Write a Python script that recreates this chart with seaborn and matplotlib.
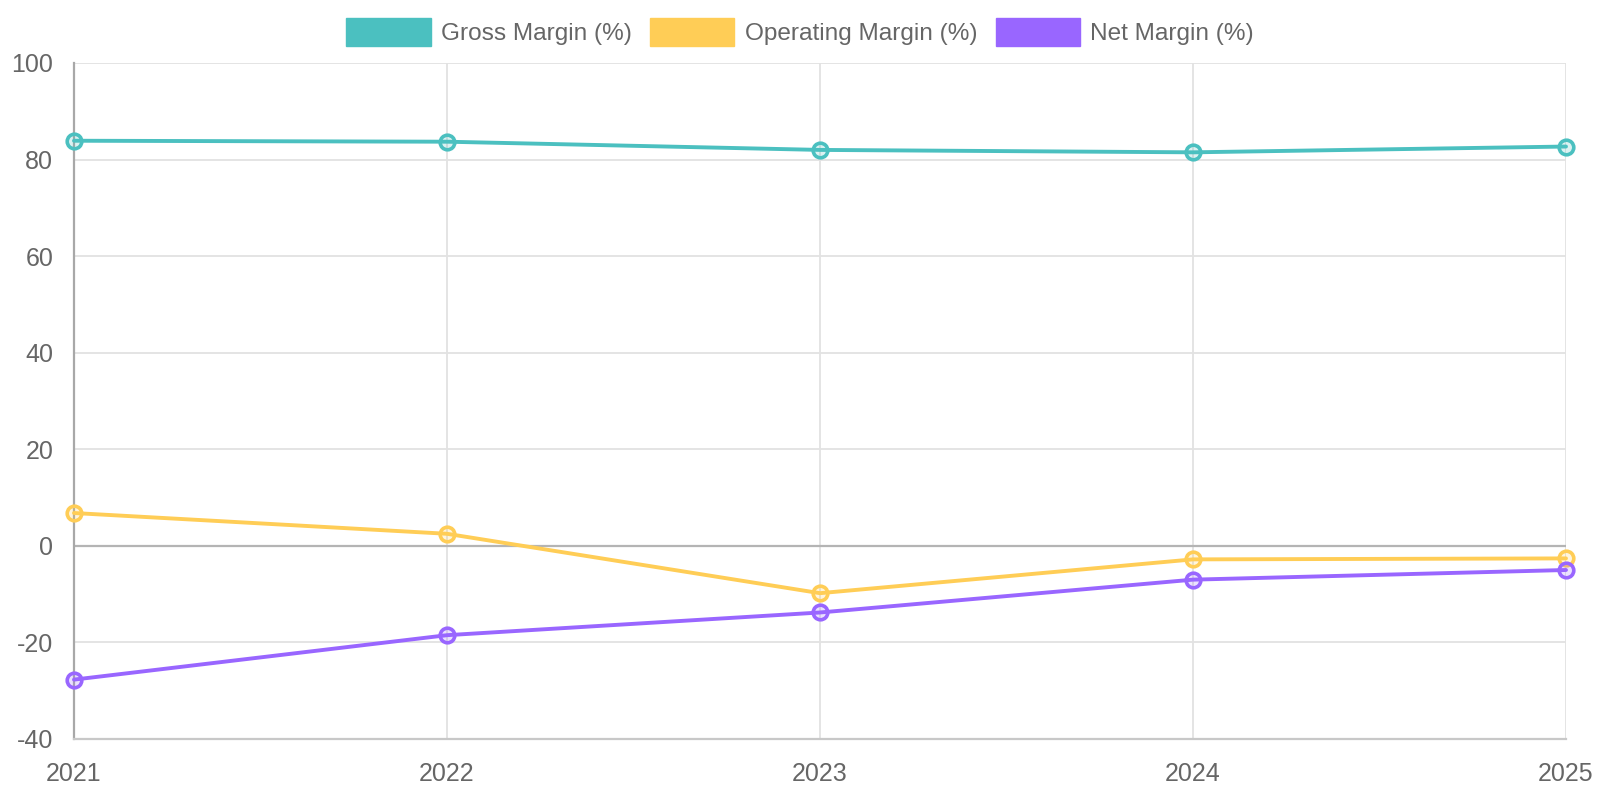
import matplotlib
matplotlib.use("Agg")
import matplotlib.pyplot as plt
from matplotlib.colors import to_rgba
from matplotlib.patches import Patch
import pandas as pd
import seaborn as sns

years = [2021, 2022, 2023, 2024, 2025]
gross_margin = [83.9, 83.7, 82.0, 81.5, 82.7]
operating_margin = [6.8, 2.5, -9.8, -2.8, -2.6]
net_margin = [-27.7, -18.5, -13.8, -7.0, -5.0]

series_names = ["Gross Margin (%)", "Operating Margin (%)", "Net Margin (%)"]
series_colors = ["#4BC0C0", "#FFCD56", "#9966FF"]
y_ticks = [-40, -20, 0, 20, 40, 60, 80, 100]

sns.set_theme(style="whitegrid")
plt.rcParams["font.family"] = ["Liberation Sans", "DejaVu Sans"]
plt.rcParams["axes.unicode_minus"] = False

text_color = "#666666"
grid_color = "#e2e2e2"

fig = plt.figure(figsize=(16, 8), dpi=100)
ax = fig.add_axes([0.04625, 0.07625, 0.9325, 0.845])

for name, values, color in zip(series_names, [gross_margin, operating_margin, net_margin], series_colors):
    df = pd.DataFrame({"year": years, "value": values})
    sns.lineplot(data=df, x="year", y="value", ax=ax, color=color, linewidth=2.8,
                 marker="o", markersize=10.5, markeredgewidth=2.6,
                 markeredgecolor=color, markerfacecolor=to_rgba(color, 0.2),
                 clip_on=False, zorder=3, legend=False)

ax.set_xlim(years[0], years[-1])
ax.set_ylim(-40, 100)
ax.set_xticks(years)
ax.set_xticklabels([str(y) for y in years])
ax.set_yticks(y_ticks)
ax.set_xlabel("")
ax.set_ylabel("")

ax.grid(True, color=grid_color, linewidth=1.3)
ax.axhline(0, color="#b4b4b4", linewidth=1.6, zorder=2)

for side in ["top", "right"]:
    ax.spines[side].set_visible(False)
ax.spines["left"].set_color("#a8a8a8")
ax.spines["left"].set_linewidth(1.6)
ax.spines["bottom"].set_color("#c8c8c8")
ax.spines["bottom"].set_linewidth(1.6)

ax.tick_params(axis="both", which="both", length=11.5, width=1.3, color=grid_color,
               labelcolor=text_color, labelsize=18)
ax.tick_params(axis="x", pad=5)
ax.tick_params(axis="y", pad=3.5)

handles = [Patch(facecolor=c, edgecolor=c) for c in series_colors]
fig.legend(handles, series_names, loc="center", bbox_to_anchor=(0.5, 0.96), ncol=3,
           frameon=False, fontsize=17.6, labelcolor=text_color,
           handlelength=3.45, handleheight=1.35, handletextpad=0.42, columnspacing=0.75)

fig.savefig("out.png", dpi=100, facecolor="white")
